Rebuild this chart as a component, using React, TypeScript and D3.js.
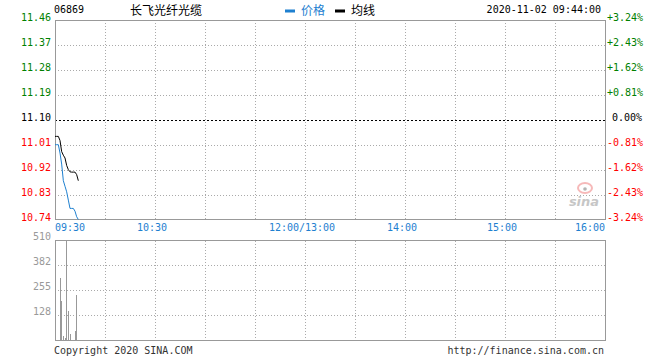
import React from "react";
import * as d3 from "d3";

const priceTicks = [11.46, 11.37, 11.28, 11.19, 11.1, 11.01, 10.92, 10.83, 10.74];
const pctTicks = ["+3.24%", "+2.43%", "+1.62%", "+0.81%", "0.00%", "-0.81%", "-1.62%", "-2.43%", "-3.24%"];
const volTicks = [510, 382, 255, 128];
const timeLabels = ["09:30", "10:30", "12:00/13:00", "14:00", "15:00", "16:00"];
const timeMinutes = [0, 60, 150, 210, 270, 330];
const gridMinutes = [30, 60, 90, 120, 150, 180, 210, 240, 270, 300];

const minutes = [0, 1, 2, 3, 4, 5, 6, 7, 8, 9, 10, 11, 12, 13, 14];
const price = [11.01, 11.01, 11.01, 10.98, 10.94, 10.88, 10.86, 10.84, 10.81, 10.78, 10.78, 10.78, 10.77, 10.75, 10.74];
const avgPrice = [11.04, 11.04, 11.04, 11.025, 10.985, 10.972, 10.962, 10.935, 10.92, 10.912, 10.911, 10.911, 10.911, 10.902, 10.88];
const volume = [0, 0, 0, 318, 201, 20, 10, 600, 150, 31, 0, 0, 47, 233, 0];

const L = 55, R = 605, T = 20, B = 219.5, VT = 240.5, VB = 340;
const mono = "'DejaVu Sans Mono', 'Liberation Mono', monospace";
const cjk = "'Noto Sans CJK SC', sans-serif";

export default function App() {
  const x = d3.scaleLinear().domain([0, 330]).range([L, R]);
  const y = d3.scaleLinear().domain([10.74, 11.46]).range([B, T]);
  const yv = d3.scaleLinear().domain([0, 510]).range([VB, VT]).clamp(true);
  const line = d3.line<number>().x((d, i) => x(minutes[i])).y((d) => y(d));
  const grid = "#aaa";
  return (
    <svg width={660} height={360} style={{ position: "absolute", left: 0, top: 0, background: "#fff" }}>
      <rect x={0} y={0} width={660} height={360} fill="#fff" />
      {/* header */}
      <text x={54} y={13} fontFamily={mono} fontSize={10} fill="#000">06869</text>
      <text x={130} y={15} fontFamily={cjk} fontSize={12} fill="#000">长飞光纤光缆</text>
      <rect x={285} y={9.5} width={10} height={3} fill="#1e80d0" />
      <text x={301} y={15} fontFamily={cjk} fontSize={12} fill="#1e80d0">价格</text>
      <rect x={335} y={9.5} width={10} height={3} fill="#000" />
      <text x={351} y={15} fontFamily={cjk} fontSize={12} fill="#000">均线</text>
      <text x={601} y={13} textAnchor="end" fontFamily={mono} fontSize={10} fill="#000">2020-11-02 09:44:00</text>

      {/* main grid */}
      {gridMinutes.map((m) => (
        <line key={"vg" + m} x1={Math.round(x(m)) + 0.5} x2={Math.round(x(m)) + 0.5} y1={T} y2={B} stroke={grid} strokeDasharray="1,2" shapeRendering="crispEdges" />
      ))}
      {priceTicks.map((p, i) =>
        i > 0 && i < priceTicks.length - 1 ? (
          <line key={"hg" + i} x1={L} x2={R} y1={Math.round(y(p)) + 0.5} y2={Math.round(y(p)) + 0.5}
            stroke={i === 4 ? "#000" : grid} strokeDasharray={i === 4 ? "2,2" : "1,2"} shapeRendering="crispEdges" />
        ) : null
      )}
      {/* watermark */}
      <g opacity={0.55}>
        <ellipse cx={585} cy={188} rx={7} ry={5} fill="none" stroke="#f08080" strokeWidth={2} />
        <circle cx={585} cy={189} r={1.8} fill="#777" />
        <text x={584} y={206} textAnchor="middle" fontFamily="'DejaVu Sans', sans-serif" fontStyle="italic" fontWeight="bold" fontSize={13} fill="#999">sina</text>
      </g>
      {/* main border */}
      <rect x={L + 0.5} y={T + 0.5} width={R - L} height={B - T - 0.5} fill="none" stroke="#999" shapeRendering="crispEdges" />

      {/* lines */}
      <path d={line(price) || ""} fill="none" stroke="#1e80d0" strokeWidth={1} />
      <path d={line(avgPrice) || ""} fill="none" stroke="#000" strokeWidth={1} />

      {/* left and right labels */}
      {priceTicks.map((p, i) => (
        <text key={"pl" + i} x={51} y={y(p) + 1} textAnchor="end" fontFamily={mono} fontSize={10}
          fill={i < 4 ? "#008000" : i === 4 ? "#000" : "#f00"}>{p.toFixed(2)}</text>
      ))}
      {pctTicks.map((s, i) => (
        <text key={"pr" + i} x={i === 4 ? 612 : 607} y={y(priceTicks[i]) + 1} fontFamily={mono} fontSize={10}
          fill={i < 4 ? "#008000" : i === 4 ? "#000" : "#f00"}>{s}</text>
      ))}

      {/* time labels */}
      {timeLabels.map((t, i) => (
        <text key={"t" + i} x={i === 0 ? L : i === timeLabels.length - 1 ? R : x(timeMinutes[i]) - 3} y={231}
          textAnchor={i === 0 ? "start" : i === timeLabels.length - 1 ? "end" : "middle"}
          fontFamily={mono} fontSize={10} fill="#1e80d0">{t}</text>
      ))}

      {/* volume panel */}
      {gridMinutes.map((m) => (
        <line key={"vvg" + m} x1={Math.round(x(m)) + 0.5} x2={Math.round(x(m)) + 0.5} y1={VT} y2={VB} stroke={grid} strokeDasharray="1,2" shapeRendering="crispEdges" />
      ))}
      {volTicks.map((v, i) =>
        i > 0 ? (
          <line key={"vh" + i} x1={L} x2={R} y1={Math.round(yv(v)) + 0.5} y2={Math.round(yv(v)) + 0.5} stroke={grid} strokeDasharray="1,2" shapeRendering="crispEdges" />
        ) : null
      )}
      {volume.map((v, i) =>
        v > 0 ? (
          <line key={"vb" + i} x1={Math.floor(x(minutes[i])) + 0.5} x2={Math.floor(x(minutes[i])) + 0.5}
            y1={VB} y2={yv(v)} stroke="#999" strokeWidth={1} shapeRendering="crispEdges" />
        ) : null
      )}
      <rect x={L + 0.5} y={VT} width={R - L} height={VB - VT} fill="none" stroke="#999" shapeRendering="crispEdges" />
      {volTicks.map((v, i) => (
        <text key={"vl" + i} x={51} y={yv(v) - 0.5} textAnchor="end" fontFamily={mono} fontSize={10} fill="#999">{v}</text>
      ))}

      {/* footer */}
      <text x={54} y={354} fontFamily={mono} fontSize={10} fill="#333">Copyright 2020 SINA.COM</text>
      <text x={604} y={354} textAnchor="end" fontFamily={mono} fontSize={10} fill="#333">http://finance.sina.com.cn</text>
    </svg>
  );
}
